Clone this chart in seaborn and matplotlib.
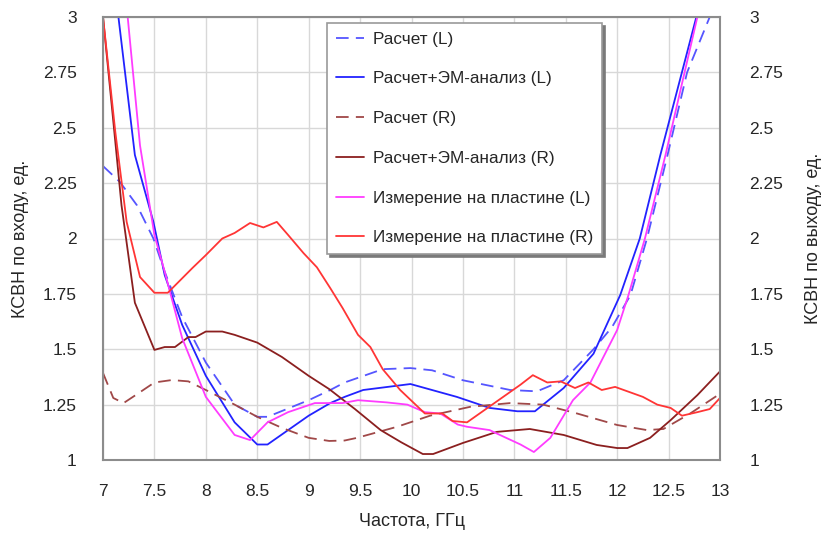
import matplotlib
matplotlib.use("Agg")
import matplotlib.pyplot as plt
import seaborn as sns
import pandas as pd
from matplotlib import font_manager

# ---------------- data ----------------
calc_L_f = [7.0, 7.165, 7.33, 7.49, 7.6, 7.77, 8.0, 8.28, 8.5, 8.6, 9.0, 9.21, 9.35, 9.72, 9.99,
            10.2, 10.5, 10.96, 11.22, 11.48, 11.77, 11.95, 12.13, 12.29, 12.49, 12.68, 12.9]
calc_L_v = [2.327, 2.255, 2.15, 2.0, 1.85, 1.645, 1.44, 1.25, 1.195, 1.195, 1.27, 1.316, 1.35, 1.41, 1.415,
            1.405, 1.36, 1.316, 1.31, 1.36, 1.50, 1.60, 1.745, 2.0, 2.377, 2.75, 3.0]

em_L_f = [7.15, 7.31, 7.49, 7.6, 7.77, 8.0, 8.28, 8.5, 8.6, 9.0, 9.21, 9.35, 9.53, 9.99, 10.44,
          10.76, 11.03, 11.2, 11.48, 11.77, 12.03, 12.22, 12.42, 12.77]
em_L_v = [3.0, 2.377, 2.075, 1.835, 1.61, 1.38, 1.17, 1.07, 1.07, 1.20, 1.257, 1.285, 1.316, 1.343, 1.285,
          1.235, 1.22, 1.22, 1.325, 1.48, 1.745, 2.0, 2.377, 3.0]

calc_R_f = [7.0, 7.1, 7.2, 7.34, 7.5, 7.67, 7.83, 8.0, 8.28, 8.5, 8.74, 9.0, 9.2, 9.35, 9.47, 9.86,
            10.18, 10.57, 10.96, 11.28, 11.61, 12.0, 12.29, 12.45, 12.71, 12.98]
calc_R_v = [1.393, 1.28, 1.257, 1.30, 1.35, 1.361, 1.355, 1.316, 1.25, 1.195, 1.145, 1.10, 1.086, 1.088, 1.10, 1.15,
            1.20, 1.24, 1.257, 1.25, 1.21, 1.158, 1.135, 1.14, 1.21, 1.293]

em_R_f = [7.0, 7.1, 7.18, 7.31, 7.5, 7.6, 7.7, 7.83, 7.9, 8.0, 8.16, 8.28, 8.5, 8.74, 9.0, 9.2, 9.45,
          9.7, 9.9, 10.11, 10.21, 10.5, 10.83, 11.15, 11.48, 11.8, 12.0, 12.1, 12.32, 12.52, 12.78, 13.0]
em_R_v = [3.0, 2.53, 2.15, 1.71, 1.497, 1.51, 1.51, 1.555, 1.555, 1.58, 1.58, 1.565, 1.53, 1.465, 1.38, 1.32, 1.23,
          1.135, 1.08, 1.027, 1.027, 1.077, 1.127, 1.14, 1.113, 1.068, 1.054, 1.054, 1.10, 1.18, 1.293, 1.40]

meas_L_f = [7.24, 7.36, 7.5, 7.6, 7.77, 8.0, 8.28, 8.43, 8.6, 8.8, 9.06, 9.33, 9.48, 9.76, 9.96, 10.13,
            10.28, 10.45, 10.54, 10.76, 10.86, 11.06, 11.19, 11.35, 11.57, 11.74, 12.0, 12.11, 12.27,
            12.47, 12.78]
meas_L_v = [3.0, 2.42, 2.016, 1.85, 1.55, 1.285, 1.113, 1.09, 1.17, 1.216, 1.257, 1.257, 1.27, 1.26, 1.25, 1.216,
            1.21, 1.16, 1.15, 1.135, 1.113, 1.07, 1.036, 1.10, 1.27, 1.35, 1.587, 1.745, 2.0,
            2.377, 3.0]

meas_R_f = [7.0, 7.12, 7.23, 7.36, 7.5, 7.63, 7.87, 8.0, 8.16, 8.28, 8.43, 8.56, 8.69, 8.8, 8.95, 9.08,
            9.21, 9.33, 9.48, 9.6, 9.72, 9.89, 10.13, 10.3, 10.4, 10.54, 11.06, 11.18, 11.32, 11.45, 11.59,
            11.72, 11.85, 11.98, 12.25, 12.39, 12.52, 12.63, 12.78, 12.9, 13.0]
meas_R_v = [3.0, 2.48, 2.075, 1.826, 1.755, 1.755, 1.867, 1.925, 2.0, 2.025, 2.07, 2.05, 2.075, 2.016, 1.934, 1.87,
            1.776, 1.686, 1.565, 1.51, 1.41, 1.316, 1.21, 1.21, 1.176, 1.17, 1.34, 1.383, 1.35, 1.355, 1.325,
            1.35, 1.316, 1.33, 1.285, 1.25, 1.235, 1.2, 1.216, 1.23, 1.28]

series_names = ["Расчет (L)", "Расчет+ЭМ-анализ (L)", "Расчет (R)", "Расчет+ЭМ-анализ (R)",
                "Измерение на пластине (L)", "Измерение на пластине (R)"]
series_data = [(calc_L_f, calc_L_v), (em_L_f, em_L_v), (calc_R_f, calc_R_v),
               (em_R_f, em_R_v), (meas_L_f, meas_L_v), (meas_R_f, meas_R_v)]
series_colors = ["#5555ff", "#2222ff", "#a04848", "#8b1f1f", "#ff3cff", "#ff3535"]
series_dashed = [True, False, True, False, False, False]

y_ticks = [1, 1.25, 1.5, 1.75, 2, 2.25, 2.5, 2.75, 3]
y_tick_labels = ["1", "1.25", "1.5", "1.75", "2", "2.25", "2.5", "2.75", "3"]
x_ticks = [7, 7.5, 8, 8.5, 9, 9.5, 10, 10.5, 11, 11.5, 12, 12.5, 13]
x_tick_labels = ["7", "7.5", "8", "8.5", "9", "9.5", "10", "10.5", "11", "11.5", "12", "12.5", "13"]

# ---------------- style ----------------
sns.set_style("white")
available = {f.name for f in font_manager.fontManager.ttflist}
narrow = "Liberation Sans Narrow" if "Liberation Sans Narrow" in available else "Liberation Sans"
plt.rcParams["font.family"] = ["Liberation Sans", "DejaVu Sans"]

rows = []
for name, (fs, vs) in zip(series_names, series_data):
    for f, v in zip(fs, vs):
        rows.append({"f": f, "v": v, "s": name})
df = pd.DataFrame(rows)

fig = plt.figure(figsize=(8.22, 5.34), dpi=100)
L, R, T, B = 103 / 822, 720 / 822, 17 / 534, 460 / 534
ax = fig.add_axes([L, 1 - B, R - L, B - T])

for name, col, dashed in zip(series_names, series_colors, series_dashed):
    sub = df[df["s"] == name]
    sns.lineplot(data=sub, x="f", y="v", ax=ax, color=col, lw=1.3, sort=False,
                 estimator=None, label=name,
                 linestyle=(0, (7, 4)) if dashed else "-")

ax.set_xlim(7, 13)
ax.set_ylim(1, 3)
ax.set_xticks(x_ticks)
ax.set_xticklabels(x_tick_labels, family=[narrow, "DejaVu Sans"], fontsize=12.5)
ax.set_yticks(y_ticks)
ax.set_yticklabels(y_tick_labels, family=[narrow, "DejaVu Sans"], fontsize=12.5)
ax.tick_params(axis="y", length=0, pad=19)
ax.tick_params(axis="x", length=0, pad=17)
ax.grid(True, color="#d8d8d8", lw=1)
ax.set_axisbelow(True)
for sp in ax.spines.values():
    sp.set_color("#8c8c8c")
    sp.set_linewidth(1.5)
ax.set_xlabel("Частота, ГГц", family=[narrow, "DejaVu Sans"], fontsize=13, labelpad=10)
ax.set_ylabel("КСВН по входу, ед.", family=[narrow, "DejaVu Sans"], fontsize=13, labelpad=10)

ax2 = ax.twinx()
ax2.set_ylim(1, 3)
ax2.set_yticks(y_ticks)
ax2.set_yticklabels(y_tick_labels, family=[narrow, "DejaVu Sans"], fontsize=12.5, ha="left")
ax2.tick_params(length=0, pad=21)
for sp in ax2.spines.values():
    sp.set_visible(False)
ax2.set_ylabel("КСВН по выходу, ед.", family=[narrow, "DejaVu Sans"], fontsize=13,
               rotation=90, labelpad=16)

leg = ax.legend(loc="upper left", bbox_to_anchor=((327 - 103) / 617, (460 - 23) / 443),
                frameon=True, fancybox=False, shadow={"color": "#7a7a7a", "alpha": 1.0},
                edgecolor="#9a9a9a", framealpha=1, fontsize=12.3, labelspacing=1.45,
                handlelength=1.65, handletextpad=0.55, borderpad=0.5, borderaxespad=0)
leg.get_frame().set_linewidth(1.2)

fig.savefig("out.png", dpi=100)
